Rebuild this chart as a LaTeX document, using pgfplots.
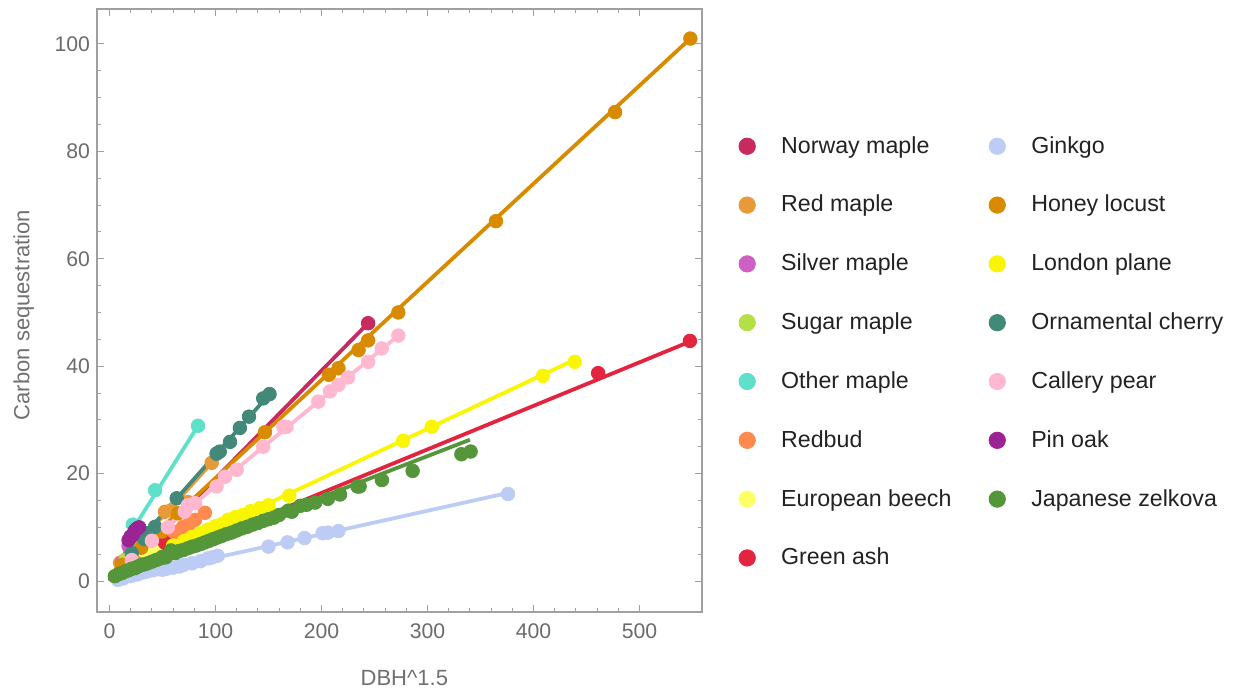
\documentclass[border=0pt]{standalone}
\usepackage{pgfplots}
\pgfplotsset{compat=1.18}
\usepackage{fontspec}
\setmainfont{Liberation Sans}
\definecolor{cNM}{HTML}{C62A5E}
\definecolor{cRM}{HTML}{E89A38}
\definecolor{cSM}{HTML}{CE5FC4}
\definecolor{cSG}{HTML}{B5DF47}
\definecolor{cOM}{HTML}{5FE0C8}
\definecolor{cRB}{HTML}{FF8A4F}
\definecolor{cEB}{HTML}{FFFF66}
\definecolor{cGA}{HTML}{E2243F}
\definecolor{cGK}{HTML}{BCCCF5}
\definecolor{cHL}{HTML}{D98B00}
\definecolor{cLP}{HTML}{FAF500}
\definecolor{cOC}{HTML}{438979}
\definecolor{cCP}{HTML}{FFB8CF}
\definecolor{cPO}{HTML}{9C2393}
\definecolor{cJZ}{HTML}{55963A}
\definecolor{frame}{HTML}{A0A0A0}
\definecolor{ticklab}{HTML}{6B6B6B}
\definecolor{labgray}{HTML}{707070}
\definecolor{legtext}{HTML}{222222}
\begin{document}
\begin{tikzpicture}
\path[use as bounding box] (0,0) rectangle (621.5pt,344.5pt);
\begin{axis}[
  at={(48.5pt,38.5pt)}, anchor=south west,
  scale only axis, width=302.5pt, height=301.5pt,
  xmin=-11.8, xmax=559, ymin=-5.77, ymax=106.5,
  xtick={0,100,...,500}, ytick={0,20,...,100},
  minor x tick num=4, minor y tick num=3,
  tick align=inside, tick pos=both,
  major tick length=3.5pt, minor tick length=2pt,
  axis line style={color=frame, line width=0.6pt},
  every tick/.style={color=frame, line width=0.5pt},
  tick label style={font=\fontsize{10.6}{12}\selectfont, color=ticklab},
  xticklabel style={yshift=-2.5pt},
  /pgf/number format/assume math mode=true,
  xlabel={DBH\textasciicircum 1.5}, ylabel={Carbon sequestration},
  label style={font=\fontsize{11}{13}\selectfont, color=labgray},
  xlabel style={at={(axis description cs:0.508,-0.1095)}, anchor=center},
  ylabel style={at={(axis description cs:-0.121,0.4925)}, anchor=center},
  legend style={at={(axis description cs:1.0595,0.431)}, anchor=west, draw=none, fill=none, inner sep=0pt,
    font=\fontsize{11.6}{13.5}\selectfont, text=legtext, row sep=15.5pt,
    /tikz/every even column/.append style={column sep=16.5pt}},
  legend cell align=left,
  legend columns=8, transpose legend,
  legend image code/.code={\path (-5pt,0pt) (14pt,0pt); \fill[#1] (-0.8pt,0pt) circle (4.1pt);},
  pt/.style={only marks, mark=*, mark size=3.4pt, mark options={draw=none, fill=#1}, color=#1},
  fl/.style={no marks, line width=1.9pt, color=#1, forget plot},
]
% Norway maple
\addplot[fl=cNM] coordinates {(5,0) (244,48)};
\addplot[pt=cNM] coordinates {(10,1.6) (18,3.3) (244,48)};
\addlegendentry{Norway maple}
% Red maple
\addplot[fl=cRM] coordinates {(7,2.6) (96.4,22)};
\addplot[pt=cRM] coordinates {(10,3.4) (52.4,12.9) (58.6,13.2) (74,14.7) (96.4,22)};
\addlegendentry{Red maple}
% Silver maple
\addplot[fl=cSM] coordinates {(10,3) (25,7.4)};
\addplot[pt=cSM] coordinates {(12,3.5) (18,6.5) (25,7.2)};
\addlegendentry{Silver maple}
% Sugar maple
\addplot[fl=cSG] coordinates {(15,4) (38,8)};
\addplot[pt=cSG] coordinates {(15,4) (28,6) (38,8)};
\addlegendentry{Sugar maple}
% Other maple
\addplot[fl=cOM] coordinates {(22,9.6) (83.5,28.9)};
\addplot[pt=cOM] coordinates {(22,10.5) (43,16.9) (83.5,28.9)};
\addlegendentry{Other maple}
% Redbud
\addplot[fl=cRB] coordinates {(25,4.4) (90,12.8)};
\addplot[pt=cRB] coordinates {(30,5.2) (40,6.0) (50,7.3) (58.6,8.6) (64,9.2) (69.5,10.1) (75,10.6) (80.7,11.4) (90,12.7)};
\addlegendentry{Redbud}
% European beech
\addplot[fl=cEB] coordinates {(30,5.5) (50,6.5)};
\addplot[pt=cEB] coordinates {(33,5.6) (36,7.4) (38,6.2) (42,6.6) (47,5.8)};
\addlegendentry{European beech}
% Green ash
\addplot[fl=cGA] coordinates {(52,4.4) (548,44.6)};
\addplot[pt=cGA] coordinates {(52.4,7.1) (461,38.7) (547.6,44.7)};
\addlegendentry{Green ash}
% Ginkgo
\addplot[fl=cGK] coordinates {(8,0.3) (376,16.4)};
\addplot[pt=cGK] coordinates {(8,0.2) (13,0.5) (20,0.9) (26,1.2) (32,1.6) (36,1.8) (41,2.0) (46,2.2) (50,2.1) (54,2.3) (60,2.5) (66,2.7) (70,3.0) (78,3.3) (86,3.7) (93,4.2) (97,4.4) (102,4.7) (150,6.4) (168,7.2) (184,8.0) (201,8.9) (206,9.0) (216,9.3) (376,16.2)};
\addlegendentry{Ginkgo}
% Honey locust
\addplot[fl=cHL] coordinates {(5,1.8) (548,101)};
\addplot[pt=cHL] coordinates {(12,3.0) (30,6.2) (49.5,9.2) (64.6,12.6) (146.7,27.7) (207,38.4) (216,39.6) (235,43) (244,44.8) (272.5,50) (364.6,67) (477,87.3) (548,101)};
\addlegendentry{Honey locust}
% London plane
\addplot[fl=cLP] coordinates {(50,5.2) (440,41.3)};
\addplot[pt=cLP] coordinates {(60,6.6) (70,7.4) (78,8.2) (86,8.9) (93,9.6) (100,10.2) (106,10.6) (112,11.4) (119,11.9) (126,12.3) (133,13.0) (142,13.6) (150,14.1) (169.6,15.9) (277,26.1) (304,28.7) (409,38.2) (439,40.8)};
\addlegendentry{London plane}
% Ornamental cherry
\addplot[fl=cOC] coordinates {(18,5.3) (151,34.8)};
\addplot[pt=cOC] coordinates {(21,5.2) (33,7.8) (36,8.9) (43,10.1) (63.4,15.4) (101,23.7) (104,24.1) (113.7,25.9) (123,28.5) (131.6,30.6) (145,34) (151,34.8)};
\addlegendentry{Ornamental cherry}
% Callery pear
\addplot[fl=cCP] coordinates {(10,3) (272.5,45.7)};
\addplot[pt=cCP] coordinates {(21,3.9) (40,7.5) (55,10) (71,12.9) (74,14.1) (80.7,14.5) (101,17.6) (109,19.4) (120,20.7) (145,25) (164,28.7) (167,28.7) (197,33.4) (208,35.3) (216,36.5) (225,37.9) (244,40.8) (256.8,43.3) (272.5,45.7)};
\addlegendentry{Callery pear}
% Pin oak
\addplot[fl=cPO] coordinates {(0,0) (28,10)};
\addplot[pt=cPO] coordinates {(18,7.6) (20,8.3) (22,8.6) (24,9.4) (26,9.8) (28,10)};
\addlegendentry{Pin oak}
% Japanese zelkova
\addplot[fl=cJZ] coordinates {(2,0.5) (340,26.3)};
\addplot[pt=cJZ] coordinates {(5,0.9) (9,1.3) (12,1.5) (15,1.8) (18,2.0) (21,2.3) (24,2.4) (27,2.7) (30,3.0) (33,3.1) (36,3.3) (40,3.6) (44,3.9) (48,4.2) (50,4.5) (53,4.4) (58,5.7) (62,5.2) (66,5.6) (70,5.8) (74,6.1) (78,6.4) (82,6.6) (86,6.9) (90,7.2) (94,7.5) (98,7.8) (102,8.1) (106,8.4) (110,8.7) (115,9.0) (120,9.4) (125,9.8) (130,10.1) (135,10.5) (140,10.8) (145,11.2) (150,11.5) (155,11.8) (160,12.3) (168.7,13.1) (172,12.9) (180,14.0) (186,14.2) (194,14.6) (206,15.3) (217.5,16.1) (234,17.6) (236,17.6) (257,18.8) (286,20.5) (332,23.6) (340.7,24.1)};
\addlegendentry{Japanese zelkova}
\end{axis}
\end{tikzpicture}
\end{document}
